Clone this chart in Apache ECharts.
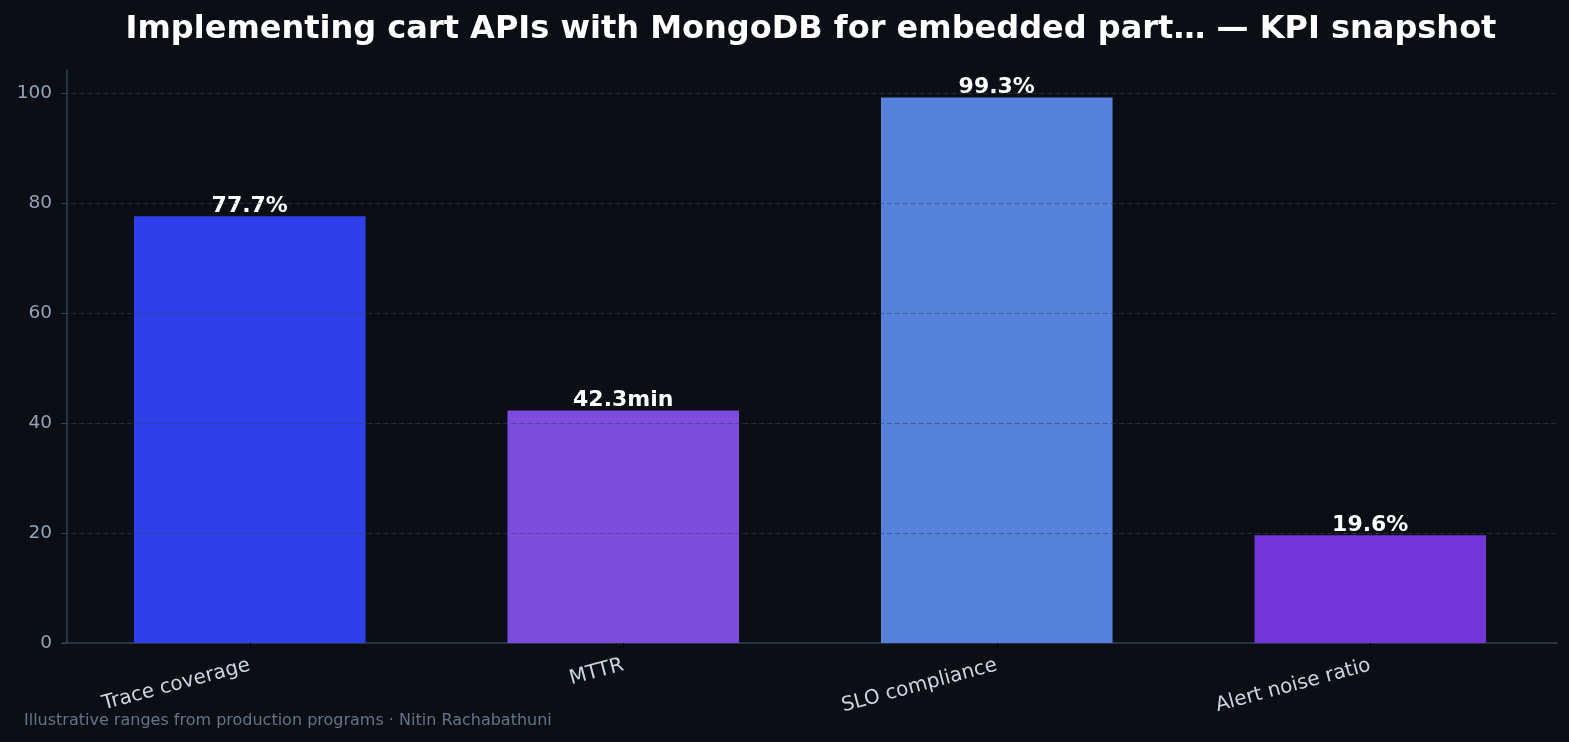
<!DOCTYPE html>
<html>
<head>
<meta charset="UTF-8">
<title>KPI snapshot</title>
<script src="https://cdn.jsdelivr.net/npm/echarts@6.0.0/dist/echarts.min.js"></script>
<style>
  html, body { margin: 0; padding: 0; background: #0b0e14; }
  #chart { width: 1569px; height: 742px; }
</style>
</head>
<body>
<div id="chart"></div>
<script>
// data
var categories = ['Trace coverage', 'MTTR', 'SLO compliance', 'Alert noise ratio'];
var values = [77.7, 42.3, 99.3, 19.6];
var units = ['%', 'min', '%', '%'];
var yTicks = [20, 40, 60, 80, 100];

var barColors = ['#2f40ea', '#7c4ddc', '#5682dc', '#7235d8'];
var font = 'DejaVu Sans';

var chart = echarts.init(document.getElementById('chart'));

var barData = values.map(function (v, i) {
  return { value: v, itemStyle: { color: barColors[i] } };
});

var option = {
  backgroundColor: '#0b0e14',
  animation: false,
  title: {
    text: 'Implementing cart APIs with MongoDB for embedded part\u2026 \u2014 KPI snapshot',
    left: 806,
    top: 9,
    textAlign: 'center',
    textStyle: { color: '#ffffff', fontFamily: font, fontWeight: 'bold', fontSize: 32 }
  },
  graphic: [{
    type: 'text',
    left: 24,
    top: 713,
    style: {
      text: 'Illustrative ranges from production programs \u00b7 Nitin Rachabathuni',
      fill: '#64748b',
      font: '16px "DejaVu Sans"'
    }
  }],
  grid: { left: 63, right: 12, top: 70, bottom: 99 },
  xAxis: {
    type: 'category',
    data: categories,
    axisLine: { lineStyle: { color: '#334155', width: 1.5 } },
    axisTick: { show: true, alignWithLabel: true, length: 5, lineStyle: { color: '#000000' } },
    axisLabel: { rotate: 15, margin: 22, color: '#cbd5e1', fontFamily: font, fontSize: 20 }
  },
  yAxis: {
    type: 'value',
    min: 0,
    max: 104.3,
    interval: 20,
    offset: -4,
    axisLine: { show: true, lineStyle: { color: '#334155', width: 1.5 } },
    axisTick: { show: true, length: 6, lineStyle: { color: '#334155' } },
    axisLabel: { showMaxLabel: false, color: '#94a3b8', fontFamily: font, fontSize: 18.5, margin: 15 },
    splitLine: { show: false }
  },
  series: [{
    type: 'bar',
    data: barData,
    barWidth: '62%',
    label: {
      show: true,
      position: 'top',
      distance: -1,
      color: '#ffffff',
      fontFamily: font,
      fontWeight: 'bold',
      fontSize: 22,
      formatter: function (p) { return values[p.dataIndex].toFixed(1) + units[p.dataIndex]; }
    },
    // grid lines drawn over the bars, like the reference
    markLine: {
      silent: true,
      symbol: 'none',
      label: { show: false },
      lineStyle: { color: 'rgba(51,65,85,0.55)', type: [5, 3], width: 1.2 },
      data: yTicks.map(function (t) { return { yAxis: t }; })
    }
  }]
};

chart.setOption(option);
</script>
</body>
</html>
